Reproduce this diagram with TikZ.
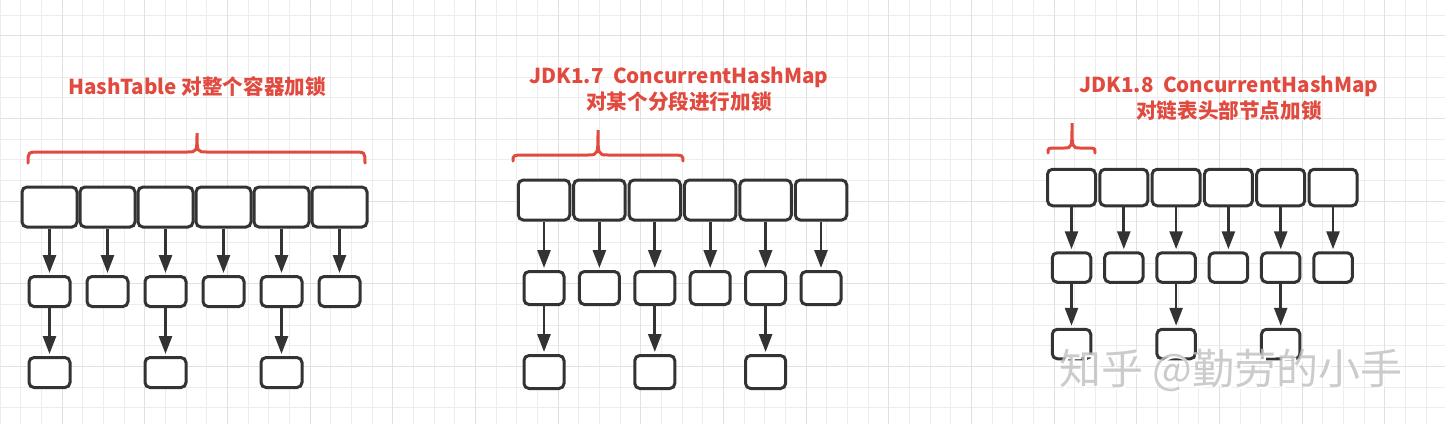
\documentclass[tikz,border=0pt]{standalone}
\usepackage{fontspec}
\usepackage{tikz}
\usetikzlibrary{arrows.meta}
\newfontfamily\cjk{Noto Sans CJK SC}
\definecolor{lockred}{HTML}{E04A3F}
\definecolor{linegray}{HTML}{333333}
\definecolor{gridminor}{HTML}{EDEDED}
\definecolor{gridmajor}{HTML}{E1E1E1}

\tikzset{
	bucket/.style={draw=linegray, line width=1.5pt, rounded corners=2.5pt, inner sep=0pt, fill=white},
	link/.style={draw=linegray, line width=1.35pt, -{Triangle[length=9pt,width=6.5pt]}, shorten >=1pt},
	lockbrace/.style={draw=lockred, line width=1.5pt, line cap=round},
	title/.style={text=lockred, font=\cjk\bfseries\fontsize{10.3pt}{12.75pt}\selectfont, align=center, inner sep=0pt}
}

\begin{document}
\begin{tikzpicture}[x=0.5pt, y=-0.5pt]
	\useasboundingbox (0,0) rectangle (1445,424);
	% grid
	\foreach \k in {0,...,69}
		\draw[gridminor, line width=0.5pt] ({20.67*\k},0) -- ({20.67*\k},424);
	\foreach \k in {0,...,19}
		\draw[gridminor, line width=0.5pt] (0,{15+20.67*\k}) -- (1445,{15+20.67*\k});
	\foreach \k in {3,7,...,67}
		\draw[gridmajor, line width=0.5pt] ({20.67*\k},0) -- ({20.67*\k},424);
	\foreach \k in {1,5,...,17}
		\draw[gridmajor, line width=0.5pt] (0,{15+20.67*\k}) -- (1445,{15+20.67*\k});

	% HashTable
	\node[title] (httitle) at (197,87) {HashTable 对整个容器加锁};
	\draw[lockbrace] (28,163) .. controls (28,152) .. (40,152) -- (187,152) .. controls (197,152) .. (197,133) .. controls (197,152) .. (207,152) -- (353,152) .. controls (365,152) .. (365,163);
	\foreach \i in {1,...,6}
		\node[bucket, minimum width=27.5pt, minimum height=20pt] (ht\i) at ({49.5+58*(\i-1)},207) {};
	\foreach \i in {1,...,6}
		\node[bucket, minimum width=20.5pt, minimum height=15pt] (hb\i) at ({49.5+58*(\i-1)},291.5) {};
	\foreach \i in {1,3,5}
		\node[bucket, minimum width=20.5pt, minimum height=15pt] (hc\i) at ({49.5+58*(\i-1)},372.5) {};
	\foreach \i in {1,...,6}
		\draw[link] (ht\i) -- (hb\i);
	\foreach \i in {1,3,5}
		\draw[link] (hb\i) -- (hc\i);

	% JDK1.7
	\node[title] (sevtitle) at (679,89.5) {JDK1.7\ \ ConcurrentHashMap\\对某个分段进行加锁};
	\draw[lockbrace] (513,161) .. controls (513,155) .. (527,155) -- (588,155) .. controls (598,155) .. (598,130) .. controls (598,155) .. (608,155) -- (669,155) .. controls (683,155) .. (683,161);
	\foreach \i in {1,...,6}
		\node[bucket, minimum width=25.75pt, minimum height=20pt] (st\i) at ({544+55.4*(\i-1)},200) {};
	\foreach \i in {1,...,6}
		\node[bucket, minimum width=20pt, minimum height=16.5pt] (sb\i) at ({544+55.4*(\i-1)},288) {};
	\foreach \i in {1,3,5}
		\node[bucket, minimum width=20pt, minimum height=16.5pt] (sc\i) at ({544+55.4*(\i-1)},372) {};
	\foreach \i in {1,...,6}
		\draw[link] (st\i) -- (sb\i);
	\foreach \i in {1,3,5}
		\draw[link] (sb\i) -- (sc\i);

	% JDK1.8
	\node[title] (eigtitle) at (1229,98.5) {JDK1.8\ \ ConcurrentHashMap\\对链表头部节点加锁};
	\draw[lockbrace] (1048,153) .. controls (1048,148) .. (1056,148) -- (1064,148) .. controls (1072,148) .. (1072,123) .. controls (1072,148) .. (1080,148) -- (1087,148) .. controls (1095,148) .. (1095,153);
	\foreach \i in {1,...,6}
		\node[bucket, minimum width=24pt, minimum height=18.25pt] (et\i) at ({1071.5+52.3*(\i-1)},187.5) {};
	\foreach \i in {1,...,6}
		\node[bucket, minimum width=19.25pt, minimum height=14.75pt] (eb\i) at ({1071.5+52.3*(\i-1)},267.5) {};
	\foreach \i in {1,3,5}
		\node[bucket, minimum width=19.25pt, minimum height=14.75pt] (ec\i) at ({1071.5+52.3*(\i-1)},344) {};
	\foreach \i in {1,...,6}
		\draw[link] (et\i) -- (eb\i);
	\foreach \i in {1,3,5}
		\draw[link] (eb\i) -- (ec\i);

	% watermark
	\node[text=white, font=\cjk\fontsize{21pt}{24pt}\selectfont, inner sep=0pt] (wmshadow) at (1233,372) {知乎 @勤劳的小手};
	\node[text=gray!50, opacity=0.8, font=\cjk\fontsize{21pt}{24pt}\selectfont, inner sep=0pt] (wm) at (1231,370) {知乎 @勤劳的小手};
\end{tikzpicture}
\end{document}
